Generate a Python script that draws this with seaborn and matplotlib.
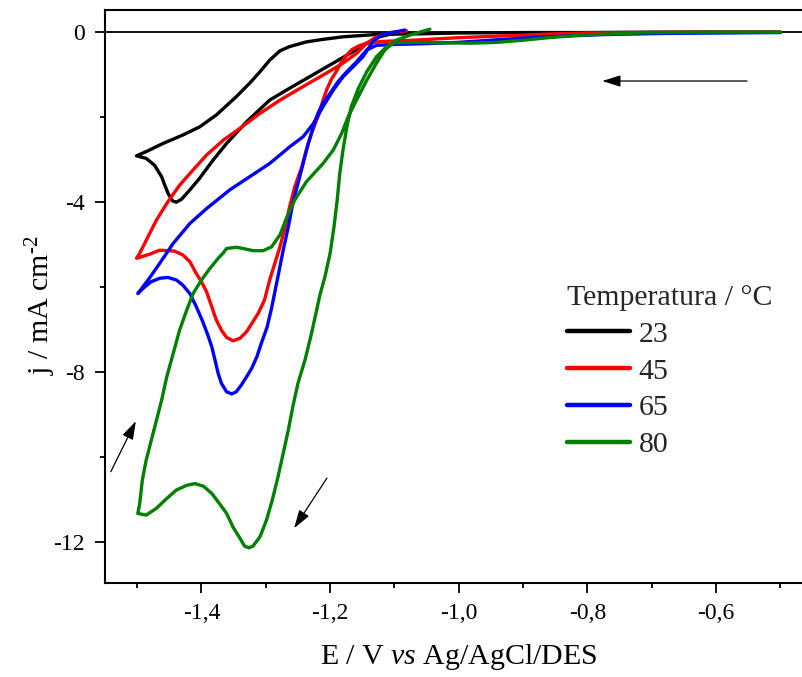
import numpy as np
import pandas as pd
import matplotlib
matplotlib.use("Agg")
import matplotlib.pyplot as plt
import seaborn as sns
from matplotlib.ticker import MultipleLocator, FuncFormatter
from matplotlib.lines import Line2D

# ---------------- data ----------------
temperatures = ["23", "45", "65", "80"]

E23 = [-0.50, -0.60, -0.70, -0.80, -0.90, -1.00, -1.06, -1.123, -1.180, -1.211,
       -1.237, -1.263, -1.278, -1.294, -1.309, -1.325, -1.346, -1.377, -1.403, -1.429,
       -1.460, -1.486, -1.501, -1.486, -1.473, -1.462, -1.457, -1.452, -1.445, -1.439,
       -1.431, -1.418, -1.403, -1.382, -1.361, -1.330, -1.294, -1.263, -1.232, -1.200,
       -1.169, -1.143, -1.123, -1.102, -1.080]
J23 = [-0.01, -0.01, -0.01, -0.02, -0.02, -0.03, -0.05, -0.06, -0.12, -0.18,
       -0.24, -0.35, -0.45, -0.67, -0.94, -1.21, -1.53, -1.96, -2.24, -2.43,
       -2.63, -2.82, -2.92, -2.98, -3.14, -3.41, -3.61, -3.80, -3.98, -4.01,
       -3.94, -3.72, -3.45, -3.02, -2.63, -2.12, -1.61, -1.33, -1.06, -0.78,
       -0.51, -0.27, -0.12, -0.04, -0.02]

E45 = [-0.50, -0.60, -0.70, -0.80, -0.85, -0.90, -0.95, -1.00, -1.07, -1.12,
       -1.143, -1.155, -1.166, -1.176, -1.184, -1.191, -1.198, -1.205, -1.211, -1.219,
       -1.229, -1.237, -1.244, -1.255, -1.263, -1.270, -1.278, -1.286, -1.294, -1.302,
       -1.312, -1.320, -1.330, -1.340, -1.351, -1.361, -1.369, -1.377, -1.384, -1.392,
       -1.400, -1.408, -1.418, -1.429, -1.442, -1.452, -1.465, -1.480, -1.501, -1.496,
       -1.483, -1.470, -1.454, -1.434, -1.413, -1.392, -1.366, -1.340, -1.309, -1.278,
       -1.242, -1.211, -1.180, -1.159, -1.143, -1.128, -1.107, -1.081]
J45 = [-0.01, -0.01, -0.02, -0.03, -0.05, -0.08, -0.11, -0.14, -0.20, -0.23,
       -0.27, -0.33, -0.42, -0.58, -0.76, -0.95, -1.12, -1.35, -1.61, -2.00,
       -2.39, -2.78, -3.18, -3.65, -4.12, -4.59, -5.06, -5.45, -5.84, -6.31,
       -6.63, -6.82, -7.06, -7.21, -7.27, -7.19, -7.02, -6.78, -6.47, -6.12,
       -5.88, -5.69, -5.41, -5.25, -5.16, -5.15, -5.14, -5.23, -5.33, -5.21,
       -4.82, -4.43, -4.04, -3.61, -3.25, -2.90, -2.55, -2.27, -1.92, -1.61,
       -1.29, -1.02, -0.74, -0.51, -0.27, -0.12, -0.02, 0.02]

E65 = [-0.50, -0.68, -0.78, -0.88, -0.95, -1.00, -1.05, -1.10, -1.128, -1.143,
       -1.159, -1.174, -1.188, -1.200, -1.211, -1.219, -1.226, -1.234, -1.242, -1.250,
       -1.258, -1.265, -1.273, -1.279, -1.285, -1.291, -1.298, -1.307, -1.314, -1.322,
       -1.330, -1.338, -1.346, -1.353, -1.361, -1.369, -1.374, -1.379, -1.384, -1.390,
       -1.398, -1.408, -1.418, -1.429, -1.439, -1.452, -1.465, -1.478, -1.488, -1.499,
       -1.483, -1.465, -1.444, -1.418, -1.392, -1.356, -1.325, -1.294, -1.263, -1.242,
       -1.226, -1.211, -1.195, -1.180, -1.164, -1.149, -1.133, -1.118, -1.097, -1.084]
J65 = [-0.02, -0.04, -0.07, -0.13, -0.20, -0.25, -0.28, -0.30, -0.32, -0.43,
       -0.71, -0.94, -1.18, -1.45, -1.68, -1.92, -2.24, -2.63, -3.10, -3.57,
       -4.04, -4.59, -5.14, -5.60, -6.05, -6.50, -6.95, -7.33, -7.65, -7.92,
       -8.12, -8.31, -8.47, -8.52, -8.47, -8.27, -8.04, -7.72, -7.41, -7.14,
       -6.82, -6.47, -6.16, -5.96, -5.84, -5.78, -5.80, -5.88, -6.00, -6.16,
       -5.84, -5.45, -4.98, -4.51, -4.16, -3.72, -3.41, -3.10, -2.71, -2.47,
       -2.16, -1.76, -1.37, -1.06, -0.82, -0.59, -0.22, -0.06, 0.00, 0.04]

E80 = [-0.50, -0.60, -0.70, -0.76, -0.81, -0.86, -0.90, -0.94, -0.98, -1.03,
       -1.07, -1.102, -1.112, -1.128, -1.143, -1.156, -1.167, -1.174, -1.180, -1.185,
       -1.189, -1.194, -1.200, -1.208, -1.216, -1.221, -1.229, -1.239, -1.250, -1.258,
       -1.265, -1.273, -1.281, -1.290, -1.299, -1.309, -1.320, -1.326, -1.333, -1.340,
       -1.351, -1.361, -1.372, -1.384, -1.397, -1.410, -1.423, -1.439, -1.454, -1.470,
       -1.486, -1.499, -1.496, -1.492, -1.486, -1.478, -1.470, -1.462, -1.454, -1.444,
       -1.434, -1.423, -1.413, -1.400, -1.387, -1.374, -1.366, -1.361, -1.346, -1.335,
       -1.320, -1.304, -1.291, -1.278, -1.268, -1.255, -1.237, -1.211, -1.195, -1.182,
       -1.172, -1.159, -1.143, -1.128, -1.115, -1.097, -1.076, -1.045]
J80 = [-0.01, -0.01, -0.02, -0.05, -0.08, -0.14, -0.20, -0.25, -0.27, -0.26,
       -0.25, -0.26, -0.35, -0.59, -0.94, -1.33, -1.76, -2.24, -2.78, -3.33,
       -3.96, -4.59, -5.21, -5.76, -6.20, -6.55, -7.10, -7.72, -8.27, -8.82,
       -9.37, -9.92, -10.47, -11.02, -11.49, -11.88, -12.10, -12.14, -12.10, -11.92,
       -11.65, -11.33, -11.10, -10.86, -10.69, -10.63, -10.67, -10.78, -10.98, -11.21,
       -11.37, -11.33, -11.10, -10.55, -10.08, -9.61, -9.14, -8.67, -8.12, -7.57,
       -7.02, -6.55, -6.16, -5.84, -5.57, -5.33, -5.20, -5.10, -5.07, -5.10,
       -5.15, -5.15, -5.06, -4.78, -4.39, -3.96, -3.53, -3.10, -2.78, -2.39,
       -2.00, -1.61, -1.14, -0.74, -0.43, -0.20, -0.08, 0.06]

colors = {"23": "#000000", "45": "#ff0000", "65": "#0000ff", "80": "#008000"}

# scan-direction arrows: (start E, start j) -> (end E, end j)
arrow_start = [(-0.552, -1.16), (-1.541, -10.35), (-1.205, -10.50)]
arrow_end = [(-0.777, -1.16), (-1.502, -9.16), (-1.256, -11.68)]

# ---------------- build table ----------------
frames = []
for t, e, j in zip(temperatures, [E23, E45, E65, E80], [J23, J45, J65, J80]):
    frames.append(pd.DataFrame({"E": e, "j": j, "T": t}))
df = pd.concat(frames, ignore_index=True)

# ---------------- style ----------------
sns.set_theme(style="ticks")
plt.rcParams["font.family"] = ["Liberation Serif", "DejaVu Serif"]
plt.rcParams["mathtext.fontset"] = "custom"
plt.rcParams["mathtext.rm"] = "Liberation Serif"
plt.rcParams["mathtext.it"] = "Liberation Serif:italic"

fig = plt.figure(figsize=(8.02, 6.77), dpi=100)
ax = fig.add_axes([0.1309, 0.1393, 0.8823, 0.8459])

ax.axhline(0, color="black", lw=1.3, zorder=1)

sns.lineplot(data=df, x="E", y="j", hue="T", palette=colors, sort=False,
             estimator=None, lw=2.4, ax=ax, legend=False, zorder=3)
for ln in ax.get_lines():
    ln.set_solid_joinstyle("round")
    ln.set_solid_capstyle("round")

for s, e in zip(arrow_start, arrow_end):
    ax.annotate("", xy=e, xytext=s,
                arrowprops=dict(arrowstyle="-|>,head_length=0.7,head_width=0.22",
                                color="black", lw=0.9, shrinkA=0, shrinkB=0,
                                mutation_scale=16))

ax.set_xlim(-1.55, -0.45)
ax.set_ylim(-12.96, 0.51)

ax.xaxis.set_major_locator(MultipleLocator(0.2))
ax.xaxis.set_minor_locator(MultipleLocator(0.1))
ax.yaxis.set_major_locator(MultipleLocator(4))
ax.yaxis.set_minor_locator(MultipleLocator(2))
ax.xaxis.set_major_formatter(FuncFormatter(lambda v, p: f"{v:.1f}".replace(".", ",")))
ax.yaxis.set_major_formatter(FuncFormatter(lambda v, p: f"{v:.0f}"))

ax.tick_params(which="major", direction="out", length=7.5, width=1.3,
               labelsize=17, color="black", labelcolor="black", pad=7)
ax.tick_params(which="minor", direction="out", length=3.5, width=1.3, color="black")

for side in ["left", "bottom", "top", "right"]:
    ax.spines[side].set_linewidth(1.5)
    ax.spines[side].set_color("black")

ax.set_xlabel(r"E / V $\mathit{vs}$ Ag/AgCl/DES", fontsize=21.5, color="black")
ax.set_ylabel("j / mA cm$^{\\mathregular{\u2010 2}}$", fontsize=21.5, color="black")
ax.xaxis.set_label_coords(0.5, -0.104)
ax.yaxis.set_label_coords(-0.0664, 0.485)

handles = [Line2D([], [], color=colors[t], lw=3.2) for t in temperatures]
leg = ax.legend(handles, temperatures, title="Temperatura / °C", frameon=False,
                loc="upper left", bbox_to_anchor=(0.707, 0.579),
                bbox_transform=fig.transFigure, fontsize=21.5, title_fontsize=21.5,
                handlelength=2.1, handletextpad=0.3, labelspacing=0.33,
                borderpad=0, borderaxespad=0, alignment="left")

fig.savefig("out.png", dpi=100)
